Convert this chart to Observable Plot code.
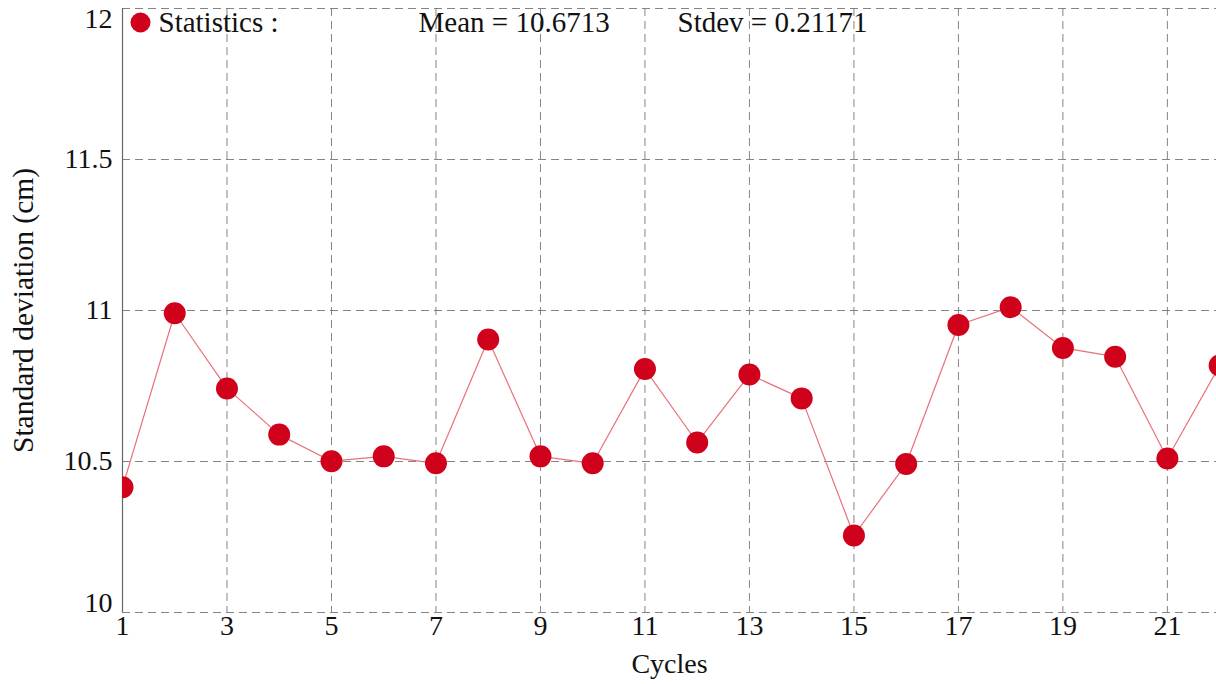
<!DOCTYPE html>
<html>
<head>
<meta charset="utf-8">
<script src="https://cdn.jsdelivr.net/npm/d3@7"></script>
<script src="https://cdn.jsdelivr.net/npm/@observablehq/plot@0.6"></script>
<style>
  html, body { margin: 0; padding: 0; background: #fff; }
  #chart svg { display: block; }
  #chart svg, #chart svg text { font-family: "Liberation Serif", "Times New Roman", serif !important; }
</style>
</head>
<body>
<div id="chart"></div>
<script>
const cycles = [1, 2, 3, 4, 5, 6, 7, 8, 9, 10, 11, 12, 13, 14, 15, 16, 17, 18, 19, 20, 21, 22];
const stdevValues = [10.415, 10.991, 10.742, 10.589, 10.501, 10.517, 10.494, 10.904, 10.517, 10.494,
                     10.806, 10.563, 10.788, 10.709, 10.255, 10.492, 10.952, 11.011, 10.876, 10.847,
                     10.510, 10.818];
const xTicks = [1, 3, 5, 7, 9, 11, 13, 15, 17, 19, 21];
const yTicks = [10, 10.5, 11, 11.5, 12];
const legendLabels = ["Statistics :", "Mean = 10.6713", "Stdev = 0.21171"];
const legendOffsets = [36, 296, 555];

const data = cycles.map((c, i) => ({cycle: c, value: stdevValues[i]}));

const red = "#d0021b";
const gridStyle = {stroke: "#777", strokeOpacity: 0.9, strokeDasharray: "8,5", strokeWidth: 1};
const yMin = yTicks[0], yMax = yTicks[yTicks.length - 1];
const yAxisCommon = {tickSize: 0, tickPadding: 10, tickFormat: d => String(d), fontSize: 28, label: null};

const legendMarks = legendLabels.map((t, i) =>
  Plot.text([t], {text: d => d, frameAnchor: "top-left", dx: legendOffsets[i], dy: 14,
    textAnchor: "start", lineAnchor: "middle", fontSize: 29, fill: "#111"})
);

const chart = Plot.plot({
  width: 1216,
  height: 684,
  marginLeft: 122,
  marginRight: 0,
  marginTop: 8,
  marginBottom: 72,
  style: {fontFamily: "Liberation Serif", fontSize: "28px", color: "#111", background: "#fff"},
  x: {domain: [1, 21.94]},
  y: {domain: [yMin, yMax]},
  marks: [
    Plot.gridX(xTicks.filter(d => d !== 1), gridStyle),
    Plot.gridY(yTicks, gridStyle),
    Plot.ruleX([1], {stroke: "#666", strokeWidth: 1.2}),
    Plot.axisX({ticks: xTicks, tickSize: 0, tickPadding: 3, tickFormat: d => String(d), fontSize: 28,
      label: "Cycles", labelAnchor: "center", labelArrow: "none", labelOffset: 60}),
    Plot.axisY({...yAxisCommon, ticks: yTicks.filter(d => d !== yMin && d !== yMax)}),
    Plot.axisY({...yAxisCommon, ticks: [yMax], dy: 11}),
    Plot.axisY({...yAxisCommon, ticks: [yMin], dy: -9}),
    Plot.axisY({ticks: [], tickSize: 0, fontSize: 29.5,
      label: "Standard deviation (cm)", labelAnchor: "center", labelArrow: "none", labelOffset: 110}),
    Plot.line(data, {x: "cycle", y: "value", stroke: "#e9707b", strokeWidth: 1.2}),
    Plot.dot(data, {x: "cycle", y: "value", r: 11, fill: red, stroke: "none", clip: true}),
    Plot.dot([0], {frameAnchor: "top-left", dx: 18, dy: 14, r: 10, fill: red, stroke: "none"}),
    ...legendMarks
  ]
});
document.getElementById("chart").appendChild(chart);
</script>
</body>
</html>
